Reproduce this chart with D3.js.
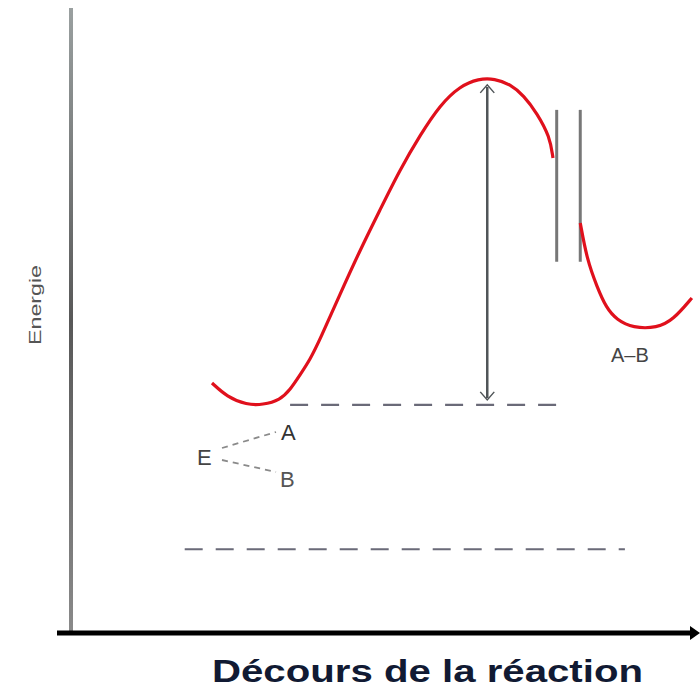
<!DOCTYPE html>
<html><head><meta charset="utf-8">
<script src="https://cdn.jsdelivr.net/npm/d3@7"></script>
<style>body{margin:0;background:#fff}svg{display:block}</style>
</head><body>
<svg id="c" width="700" height="690"></svg>
<script>
// Data (reaction coordinate 0-100, energy 0-100)
const reactantX = [22.9,25.3,28.5,31.1,33.9,35.5,37.1,38.7,40.3,43.5,46.8,50.0,53.2,56.5,59.7,62.9,65.9,68.5,71.0,73.2,75.3,77.4,77.9];
const reactantY = [40.0,37.8,36.5,36.5,37.3,38.9,41.3,43.7,46.9,54.1,61.3,67.7,74.1,79.7,84.5,87.5,88.7,88.7,87.8,86.0,83.2,79.4,76.0];
const productX = [82.3,83.4,85.0,86.5,88.2,90.8,94.7,97.3,100.3];
const productY = [65.6,59.7,55.4,52.0,50.1,48.8,48.8,50.1,53.6];
const breakX = [78.5,82.3];
const breakY = [83.7,59.4];
const reactantLevel = 36.5, reactantLevelX = [35.5,79.5];
const lowLevel = 13.4, lowLevelX = [18.5,89.5];
const activationX = 67.3, activationY = [87.7,37.3];
const xTitle = "Décours de la réaction";
const yTitle = "Energie";

const svg = d3.select("#c");
const x = d3.scaleLinear().domain([0,100]).range([70,690]);
const y = d3.scaleLinear().domain([0,100]).range([633,8]);

// y axis line (grey gradient)
const defs = svg.append("defs");
const g = defs.append("linearGradient").attr("id","ya").attr("x1",0).attr("x2",0).attr("y1",0).attr("y2",1);
g.append("stop").attr("offset","0%").attr("stop-color","#9aa0a0");
g.append("stop").attr("offset","50%").attr("stop-color","#585858");
g.append("stop").attr("offset","100%").attr("stop-color","#8a8a8a");
svg.append("rect").attr("x",x(0)-1).attr("y",y(100)).attr("width",4).attr("height",y(0)-y(100)).attr("fill","url(#ya)");

// x axis
svg.append("line").attr("x1",57).attr("x2",x(100)+2).attr("y1",y(0)).attr("y2",y(0))
  .attr("stroke","#000").attr("stroke-width",5);
svg.append("path").attr("d",`M${x(100)},${y(0)-7}L${x(100)+10},${y(0)}L${x(100)},${y(0)+7}Z`).attr("fill","#000");

// dashed levels
svg.append("line").attr("x1",x(reactantLevelX[0])).attr("x2",x(reactantLevelX[1]))
  .attr("y1",y(reactantLevel)).attr("y2",y(reactantLevel))
  .attr("stroke","#6a6a78").attr("stroke-width",2.2).attr("stroke-dasharray","18,13");
svg.append("line").attr("x1",x(lowLevelX[0])).attr("x2",x(lowLevelX[1]))
  .attr("y1",y(lowLevel)).attr("y2",y(lowLevel))
  .attr("stroke","#6a6a78").attr("stroke-width",2.2).attr("stroke-dasharray","18,13");

// break marks
breakX.forEach(b=>{
  svg.append("line").attr("x1",x(b)).attr("x2",x(b)).attr("y1",y(breakY[0])).attr("y2",y(breakY[1]))
    .attr("stroke","#777").attr("stroke-width",3);
});

// curves
const line = d3.line().x(d=>x(d[0])).y(d=>y(d[1])).curve(d3.curveBasis);
svg.append("path").datum(reactantX.map((v,i)=>[v,reactantY[i]])).attr("d",line)
  .attr("fill","none").attr("stroke","#e0101c").attr("stroke-width",3.2);
svg.append("path").datum(productX.map((v,i)=>[v,productY[i]])).attr("d",line)
  .attr("fill","none").attr("stroke","#e0101c").attr("stroke-width",3.2);

// activation arrow
const ax = x(activationX), a1 = y(activationY[0]), a2 = y(activationY[1]);
svg.append("line").attr("x1",ax).attr("x2",ax).attr("y1",a1+2).attr("y2",a2-2)
  .attr("stroke","#505558").attr("stroke-width",2.5);
svg.append("path").attr("d",`M${ax-7},${a1+8}L${ax},${a1}L${ax+7},${a1+8}`).attr("fill","none").attr("stroke","#505558").attr("stroke-width",1.5);
svg.append("path").attr("d",`M${ax-7},${a2-8}L${ax},${a2}L${ax+7},${a2-8}`).attr("fill","none").attr("stroke","#505558").attr("stroke-width",1.5);

// labels
const lab = (t,px,py,size,fill)=>svg.append("text").attr("x",px).attr("y",py).text(t)
  .attr("font-family","Liberation Sans, Arial, sans-serif").attr("font-size",size).attr("fill",fill);
lab("E",197,465,22,"#444");
lab("A",281,440,22,"#333");
lab("B",280,487,22,"#555");
lab("A–B",611,362,20,"#444");
svg.append("line").attr("x1",222).attr("y1",448).attr("x2",276).attr("y2",432)
  .attr("stroke","#8a8a8a").attr("stroke-width",1.8).attr("stroke-dasharray","6,5");
svg.append("line").attr("x1",222).attr("y1",460).attr("x2",276).attr("y2",472)
  .attr("stroke","#8a8a8a").attr("stroke-width",1.8).attr("stroke-dasharray","6,5");

// axis titles
svg.append("text").attr("transform","translate(41,345) rotate(-90)").text(yTitle)
  .attr("font-family","Liberation Sans Narrow, Liberation Sans, Arial, sans-serif").attr("font-size",17)
  .attr("fill","#555").attr("textLength",80).attr("lengthAdjust","spacingAndGlyphs");
svg.append("text").attr("x",212).attr("y",682).text(xTitle)
  .attr("font-family","Liberation Sans, Arial, sans-serif").attr("font-weight","bold").attr("font-size",31)
  .attr("fill","#111a33").attr("textLength",431).attr("lengthAdjust","spacingAndGlyphs");
</script>
</body></html>
